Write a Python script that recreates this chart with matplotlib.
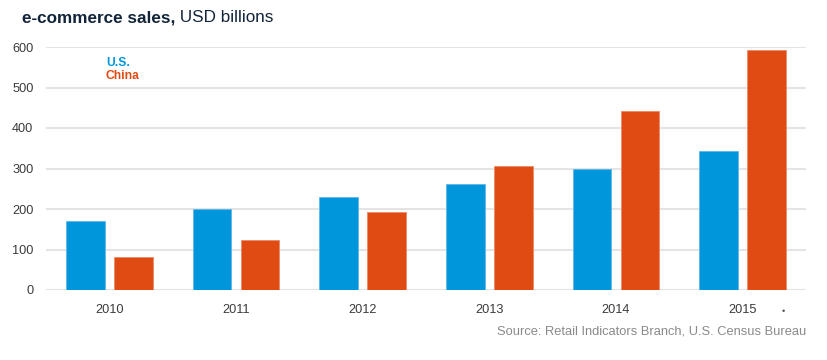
import numpy as np
import matplotlib
matplotlib.use('Agg')
import matplotlib.pyplot as plt

plt.rcParams['font.family'] = ['Liberation Sans', 'DejaVu Sans']

years = ['2010', '2011', '2012', '2013', '2014', '2015']
us_sales = [170, 200, 230, 262, 298, 342]
china_sales = [81, 123, 193, 306, 443, 593]
yticks = [0, 100, 200, 300, 400, 500, 600]

blue = '#0096db'
orange = '#e04a13'

fig = plt.figure(figsize=(8.28, 3.6), dpi=100)
ax = fig.add_axes([46/828, 1 - 290/360, 760/828, 243/360])

x = np.arange(len(years))
w = 0.304
ax.bar(x - 0.19, us_sales, w, color=blue, edgecolor='#5cb8e8', linewidth=0.6, zorder=3)
ax.bar(x + 0.19, china_sales, w, color=orange, edgecolor='#ec8a66', linewidth=0.6, zorder=3)

ax.set_xlim(-0.5, 5.5)
ax.set_ylim(0, 600)
ax.set_yticks(yticks)
ax.set_xticks(x)
ax.set_xticklabels(years)
ax.yaxis.grid(True, color='#e4e4e4', linewidth=1.5, zorder=0)
ax.set_axisbelow(True)
for s in ax.spines.values():
    s.set_visible(False)
ax.tick_params(axis='both', length=0, labelsize=9.2, labelcolor='#3a3a3a')
ax.tick_params(axis='y', pad=9)
ax.tick_params(axis='x', pad=10)

# legend as coloured text
fig.text(106/828, 1 - 63/360, 'U.S.', color=blue, fontsize=8.7, fontweight='bold', va='center')
fig.text(106/828, 1 - 76/360, 'China', color=orange, fontsize=8.7, fontweight='bold', va='center')

# title in two weights
t1 = fig.text(22/828, 1 - 18/360, 'e-commerce sales,', color='#12243a', fontsize=12.3,
              fontweight='bold', va='center')
ax.annotate(' USD billions', xy=(1, 0), xycoords=t1, va='bottom', ha='left',
            color='#12243a', fontsize=12.3)

fig.text(783/828, 1 - 311/360, '•', color='#555555', fontsize=6.5, ha='center', va='center')
fig.text(806/828, 1 - 332/360, 'Source: Retail Indicators Branch, U.S. Census Bureau',
         color='#8a8a8a', fontsize=9.3, ha='right', va='center')

fig.savefig('out.png', dpi=100)
